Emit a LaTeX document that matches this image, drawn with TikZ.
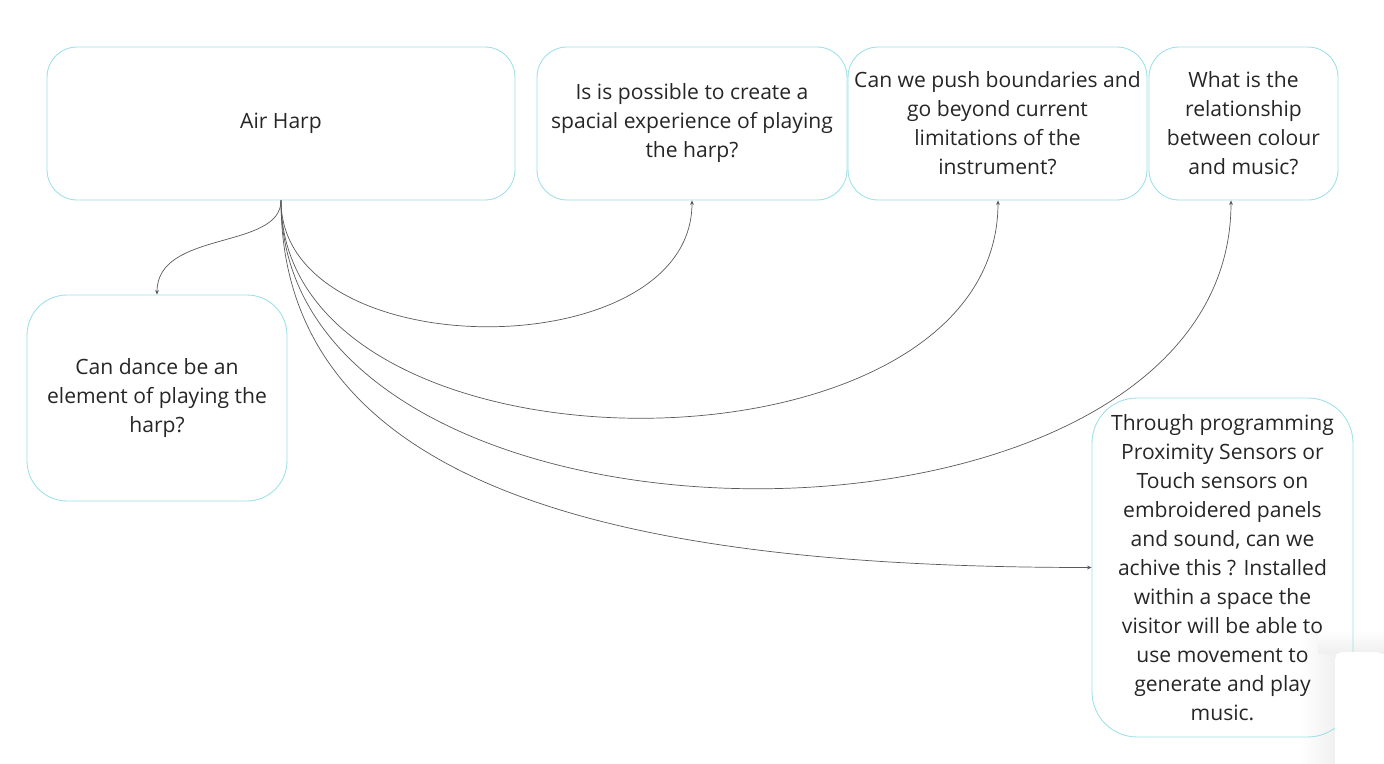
\documentclass[tikz,border=0pt]{standalone}
\usepackage{fontspec}
\setmainfont{Open Sans}
\usetikzlibrary{arrows.meta}

\definecolor{boxline}{HTML}{9EE0E8}
\definecolor{boxtext}{HTML}{262626}
\definecolor{linkline}{HTML}{5A5A5A}

\tikzset{
  qbox/.style={draw=boxline, line width=0.5pt, rectangle, rounded corners=0.6cm,
    inner sep=0pt, align=center, text=boxtext,
    font=\fontsize{12pt}{16.5pt}\selectfont},
  link/.style={draw=linkline, line width=0.4pt, -{Stealth[length=2.6pt,width=2.2pt]}},
}

\begin{document}
\begin{tikzpicture}[x=0.02cm, y=-0.02cm]
  \useasboundingbox (0,0) rectangle (1384,764);

  % soft shadow of the corner panel
  \shade[left color=white, right color=black!6] (1300,630) rectangle (1336,764);
  \shade[top color=white, bottom color=black!6] (1318,630) rectangle (1384,653);

  \node[qbox, minimum width=9.36cm, minimum height=3.06cm] (harp) at (281,123.5) {Air Harp};
  \node[qbox, minimum width=6.2cm, minimum height=3.06cm] (spatial) at (692,123.5)
    {Is is possible to create a\\ spacial experience of playing\\ the harp?};
  \node[qbox, minimum width=5.98cm, minimum height=3.06cm] (push) at (997.5,123.5)
    {Can we push boundaries and\\ go beyond current\\ limitations of the\\ instrument?};
  \node[qbox, minimum width=3.78cm, minimum height=3.06cm] (colour) at (1243.5,123.5)
    {What is the\\ relationship\\ between colour\\ and music?};
  \node[qbox, minimum width=5.2cm, minimum height=4.12cm, rounded corners=0.8cm] (dance) at (157,398)
    {Can dance be an\\ element of playing the\\ harp?};
  \node[qbox, minimum width=5.22cm, minimum height=6.78cm, rounded corners=0.9cm] (through) at (1222.5,567.5)
    {Through programming\\ Proximity Sensors or\\ Touch sensors on\\ embroidered panels\\ and sound, can we\\ achive this ? Installed\\ within a space the\\ visitor will be able to\\ use movement to\\ generate and play\\ music.};

  % connectors from the main box
  \draw[link] (harp.south) .. controls +(0,50) and +(0,-65) .. (dance.north);
  \draw[link] (harp.south) .. controls +(0,168) and +(0,168) .. (spatial.south);
  \draw[link] (harp.south) .. controls +(0,290) and +(0,290) .. ([xshift=0.01cm]push.south);
  \draw[link] (harp.south) .. controls +(0,384) and +(0,384) .. ([xshift=-0.25cm]colour.south);
  \draw[link] (harp.south) .. controls +(0,300) and +(-442,0) .. (through.west);

  % panel in the corner
  \fill[white, rounded corners=0.16cm] (1335,652) -- (1384,652) -- (1384,780) -- (1335,780) -- cycle;
\end{tikzpicture}
\end{document}
